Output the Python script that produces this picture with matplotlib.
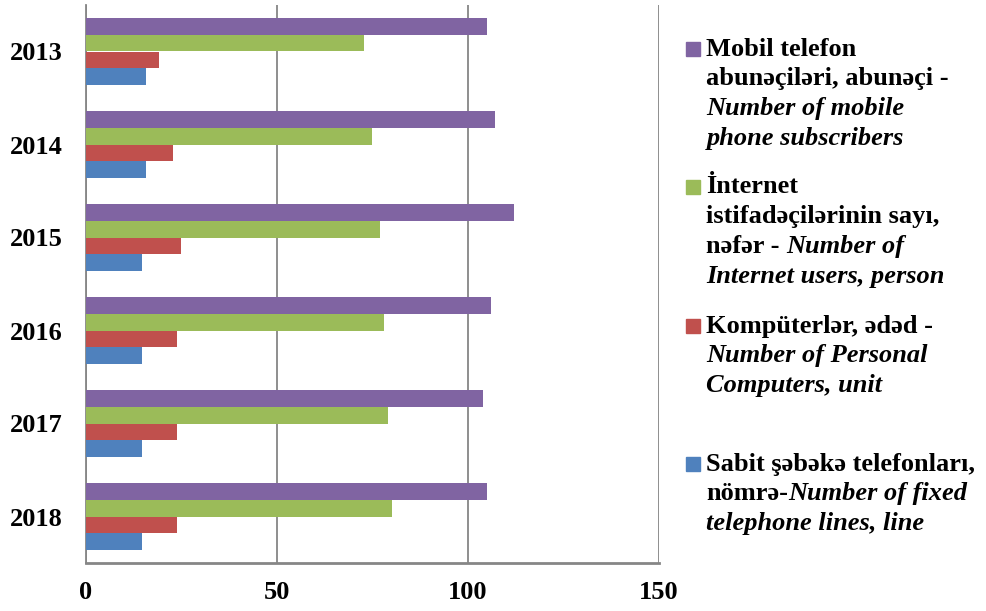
import matplotlib
matplotlib.use("Agg")
import matplotlib.pyplot as plt
import numpy as np
from matplotlib.patches import Rectangle

years = ['2013', '2014', '2015', '2016', '2017', '2018']
fixed_lines = [15.8, 15.8, 14.6, 14.6, 14.6, 14.6]
computers = [19.2, 22.8, 24.8, 23.8, 23.8, 23.8]
internet = [72.9, 74.9, 77.0, 78.1, 79.1, 80.0]
mobile = [105.1, 107.0, 112.1, 106.0, 104.0, 105.1]
xticks = [0, 50, 100, 150]

colors = {'mobile': '#8064A2', 'internet': '#9BBB59', 'computers': '#C0504D', 'fixed': '#4F81BD'}

legend_entries = [
    ('mobile', [[("Mobil telefon", 'normal')],
                [("abunəçiləri, abunəçi -", 'normal')],
                [("Number of mobile", 'italic')],
                [("phone subscribers", 'italic')]], 49),
    ('internet', [[("İnternet", 'normal')],
                  [("istifadəçilərinin sayı,", 'normal')],
                  [("nəfər - ", 'normal'), ("Number of", 'italic')],
                  [("Internet users, person", 'italic')]], 187),
    ('computers', [[("Kompüterlər, ədəd -", 'normal')],
                   [("Number of Personal", 'italic')],
                   [("Computers, unit", 'italic')]], 326),
    ('fixed', [[("Sabit şəbəkə telefonları,", 'normal')],
               [("nömrə-", 'normal'), ("Number of fixed", 'italic')],
               [("telephone lines, line", 'italic')]], 464),
]

W, H = 986, 611
fig = plt.figure(figsize=(W / 100, H / 100), dpi=100)
ax = fig.add_axes([86 / W, 1 - 563 / H, (659 - 86) / W, (563 - 5) / H])

y = np.arange(len(years))
h = 0.18
series = [('fixed', fixed_lines, 0.27), ('computers', computers, 0.09),
          ('internet', internet, -0.09), ('mobile', mobile, -0.27)]
for key, vals, off in series:
    ax.barh(y + off, vals, height=h, color=colors[key], edgecolor='none', zorder=3)

ax.set_xlim(0, 150)
ax.set_ylim(len(years) - 0.5, -0.5)
ax.set_xticks(xticks)
ax.set_xticklabels([str(t) for t in xticks])
ax.set_yticks(y)
ax.set_yticklabels(years)
for lbl in ax.get_xticklabels() + ax.get_yticklabels():
    lbl.set_fontfamily('Liberation Serif')
    lbl.set_fontweight('bold')
    lbl.set_fontsize(19)
ax.tick_params(axis='both', length=0)
ax.tick_params(axis='y', pad=17)
ax.tick_params(axis='x', pad=13)
ax.grid(axis='x', color='#868686', linewidth=1.3, zorder=0)
for s in ['top', 'right']:
    ax.spines[s].set_visible(False)
ax.spines['left'].set_color('#868686')
ax.spines['left'].set_linewidth(1.3)
ax.spines['bottom'].set_color('#868686')
ax.spines['bottom'].set_linewidth(2)

# manual legend
fig.canvas.draw()
renderer = fig.canvas.get_renderer()
line_sp = 29.7
fs = 19
for key, lines, y0 in legend_entries:
    fig.patches.append(Rectangle((686 / W, 1 - (y0 + 7) / H), 14 / W, 14 / H,
                                 transform=fig.transFigure, color=colors[key]))
    for i, segs in enumerate(lines):
        yy = 1 - (y0 + i * line_sp) / H
        x = 706.5
        for text, style in segs:
            t = fig.text(x / W, yy, text, fontsize=fs, fontfamily='Liberation Serif',
                         fontweight='bold', fontstyle=style, va='center', ha='left')
            bb = t.get_window_extent(renderer=renderer)
            x += bb.width

fig.savefig('out.png', dpi=100)
